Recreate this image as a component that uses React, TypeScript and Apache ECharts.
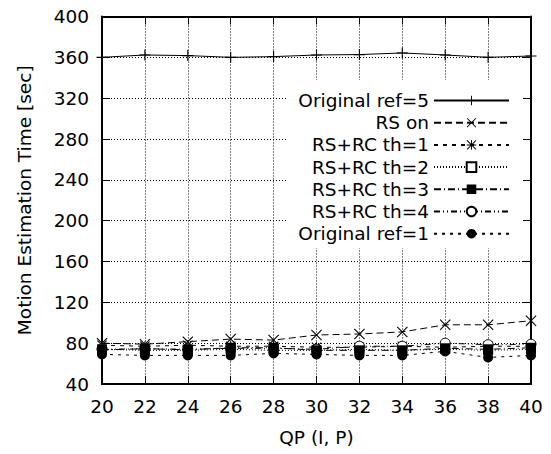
import React, { useEffect, useRef } from "react";
import * as echarts from "echarts";

const qp = [20, 22, 24, 26, 28, 30, 32, 34, 36, 38, 40];
const origRef5 = [360, 362.3, 361.7, 360, 360.7, 362.3, 362.7, 364.3, 362.3, 360, 361.3];
const rsOn = [80, 79, 81.5, 84, 83, 88, 89, 91, 98, 98, 102];
const rsrcTh1 = [78, 77, 78, 77, 77, 76, 76, 77, 76, 77, 77];
const rsrcTh2 = [74, 73, 73, 74, 73, 73, 74, 73, 74, 73, 74];
const rsrcTh3 = [73.5, 74.5, 73.5, 75.5, 75.5, 73, 73, 73, 75, 74, 75.5];
const rsrcTh4 = [74, 74.5, 74, 75, 75, 74, 77, 77, 80, 78.5, 79];
const origRef1 = [69, 68, 68, 68, 70, 69, 68, 68, 72, 66, 68];

const seriesNames = [
  "Original ref=5",
  "RS on",
  "RS+RC th=1",
  "RS+RC th=2",
  "RS+RC th=3",
  "RS+RC th=4",
  "Original ref=1",
];

const PLUS = "path://M0,4.5H10V5.5H0Z M4.5,0H5.5V10H4.5Z";
const CROSS =
  "path://M0.7,0L5,4.3L9.3,0L10,0.7L5.7,5L10,9.3L9.3,10L5,5.7L0.7,10L0,9.3L4.3,5L0,0.7Z";
const STAR =
  "path://M0.7,0L5,4.3L9.3,0L10,0.7L5.7,5L10,9.3L9.3,10L5,5.7L0.7,10L0,9.3L4.3,5L0,0.7Z M0,4.5H10V5.5H0Z M4.5,0H5.5V10H4.5Z";

const FONT = "DejaVu Sans";

export default function App() {
  const ref = useRef<HTMLDivElement>(null);
  useEffect(() => {
    if (!ref.current) return;
    const chart = echarts.init(ref.current, null, { renderer: "svg" });
    const mk = (
      name: string,
      vals: number[],
      symbol: string,
      size: number,
      dash: any,
      fill: string
    ) => ({
      name,
      type: "line",
      data: qp.map((x, i) => [x, vals[i]]),
      symbol,
      symbolSize: size,
      showAllSymbol: true,
      lineStyle: { color: "#000", width: 1, type: dash },
      itemStyle: {
        color: fill,
        borderColor: "#000",
        borderWidth: fill === "#fff" ? 1 : 0,
      },
      emphasis: { disabled: true },
    });
    const axisCommon = {
      axisLine: { show: true, lineStyle: { color: "#000", width: 2 } },
      axisTick: { show: true, inside: true, length: 8, lineStyle: { color: "#000", width: 1 } },
    };
    chart.setOption({
      animation: false,
      textStyle: { fontFamily: FONT },
      grid: { left: 102, right: 20, top: 16.5, bottom: 70, containLabel: false },
      legend: {
        show: true,
        orient: "vertical",
        align: "right",
        right: 28,
        top: 80,
        padding: [11, 13, 5, 11],
        backgroundColor: "#fff",
        itemWidth: 75,
        itemHeight: 12,
        itemGap: 3.2,
        selectedMode: false,
        data: seriesNames,
        textStyle: { fontFamily: FONT, fontSize: 18.5, color: "#000", lineHeight: 18 },
      },
      xAxis: [
        {
          type: "value",
          min: 20,
          max: 40,
          interval: 2,
          name: "QP (I, P)",
          nameLocation: "middle",
          nameGap: 44,
          nameTextStyle: { fontFamily: FONT, fontSize: 18.5, color: "#000" },
          ...axisCommon,
          axisLabel: { fontFamily: FONT, fontSize: 18.5, color: "#000", margin: 13 },
          splitLine: { show: true, lineStyle: { color: "#000", width: 1, type: [1, 2] } },
        },
        {
          type: "value",
          position: "top",
          min: 20,
          max: 40,
          interval: 2,
          ...axisCommon,
          axisLabel: { show: false },
          splitLine: { show: false },
        },
      ],
      yAxis: [
        {
          type: "value",
          min: 40,
          max: 400,
          interval: 40,
          name: "Motion Estimation Time [sec]",
          nameLocation: "middle",
          nameGap: 68,
          nameTextStyle: { fontFamily: FONT, fontSize: 18.5, color: "#000" },
          ...axisCommon,
          axisLabel: { fontFamily: FONT, fontSize: 18.5, color: "#000", margin: 13 },
          splitLine: { show: true, lineStyle: { color: "#000", width: 1, type: [1, 2] } },
        },
        {
          type: "value",
          position: "right",
          min: 40,
          max: 400,
          interval: 40,
          ...axisCommon,
          axisLabel: { show: false },
          splitLine: { show: false },
        },
      ],
      series: [
        mk(seriesNames[0], origRef5, PLUS, 11, "solid", "#000"),
        mk(seriesNames[1], rsOn, CROSS, 11, [7, 4], "#000"),
        mk(seriesNames[2], rsrcTh1, STAR, 10, [4, 5], "#000"),
        mk(seriesNames[3], rsrcTh2, "rect", 9, [1, 2], "#fff"),
        mk(seriesNames[5], rsrcTh4, "circle", 10, [6, 3, 1, 3, 1, 3], "#fff"),
        mk(seriesNames[4], rsrcTh3, "rect", 10, [7, 3, 1, 3], "#000"),
        mk(seriesNames[6], origRef1, "circle", 10, [3, 5], "#000"),
      ],
    });
    return () => chart.dispose();
  }, []);
  return <div ref={ref} style={{ width: 551, height: 454, position: "absolute", left: 0, top: 0 }} />;
}
